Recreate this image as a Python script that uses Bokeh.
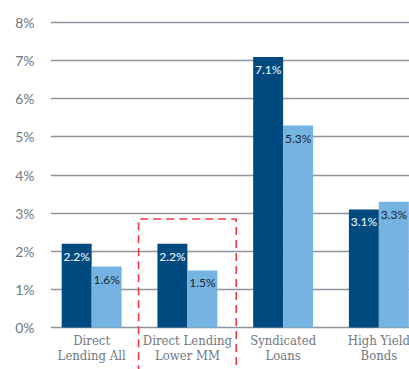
from bokeh.plotting import figure
from bokeh.models import FixedTicker, ColumnDataSource
from bokeh.core.properties import value
from bokeh.embed import file_html
from bokeh.resources import INLINE

categories = ["Direct\nLending All", "Direct Lending\nLower MM", "Syndicated\nLoans", "High Yield\nBonds"]
series_a = [2.2, 2.2, 7.1, 3.1]
series_b = [1.6, 1.5, 5.3, 3.3]
y_ticks = [0, 1, 2, 3, 4, 5, 6, 7, 8]
highlight_index = 1
highlight_top = 2.85

DARK = "#004a80"
LIGHT = "#74b3e2"
GRID = "#8d969e"
TEXT_GRAY = "#6f7982"

idx = list(range(len(categories)))
bw = 0.313

p = figure(width=409, height=369, x_range=(-0.43, 3.32), y_range=(-1.10, 8.58),
           output_backend="svg", toolbar_location=None,
           min_border_left=50, min_border_right=0, min_border_top=0, min_border_bottom=0)
p.outline_line_color = None
p.background_fill_color = "white"
p.border_fill_color = "white"
p.xaxis.visible = False
p.xgrid.visible = False

p.yaxis.ticker = FixedTicker(ticks=y_ticks)
p.yaxis.major_label_overrides = {t: f"{t}%" for t in y_ticks}
p.yaxis.axis_line_color = None
p.yaxis.major_tick_line_color = None
p.yaxis.minor_tick_line_color = None
p.yaxis.major_tick_out = 0
p.yaxis.major_label_standoff = 16
p.yaxis.major_label_text_font = "Lato"
p.yaxis.major_label_text_font_size = "14px"
p.yaxis.major_label_text_color = TEXT_GRAY
p.ygrid.grid_line_color = GRID
p.ygrid.grid_line_width = 1.5

src = ColumnDataSource(dict(
    xa=[i - bw / 2 for i in idx], xb=[i + bw / 2 for i in idx],
    a=series_a, b=series_b,
    la=[f"{v:.1f}%" for v in series_a], lb=[f"{v:.1f}%" for v in series_b],
))
p.vbar(x="xa", top="a", bottom=0, width=bw, source=src, fill_color=DARK, line_color=None)
p.vbar(x="xb", top="b", bottom=0, width=bw, source=src, fill_color=LIGHT, line_color=None)

p.text(x="xa", y="a", text="la", source=src, text_align="center", text_baseline="top",
       y_offset=5, text_color="white", text_font=value("Lato"), text_font_size="12px")
p.text(x="xb", y="b", text="lb", source=src, text_align="center", text_baseline="top",
       y_offset=5, text_color="#1b2733", text_font=value("Lato"), text_font_size="12px")

p.text(x=idx, y=[-0.13] * len(idx), text=categories, text_align="center", text_baseline="top",
       text_color=TEXT_GRAY, text_font=value("'DejaVu Serif Condensed', 'DejaVu Serif'"),
       text_font_size="13px", text_line_height=1.05)

hx0, hx1 = highlight_index - 0.51, highlight_index + 0.51
p.line(x=[hx0, hx0, hx1, hx1], y=[-1.2, highlight_top, highlight_top, -1.2],
       line_color="#ee3b44", line_width=1.6, line_dash="8 5")

open("out.html", "w").write(file_html(p, INLINE))
